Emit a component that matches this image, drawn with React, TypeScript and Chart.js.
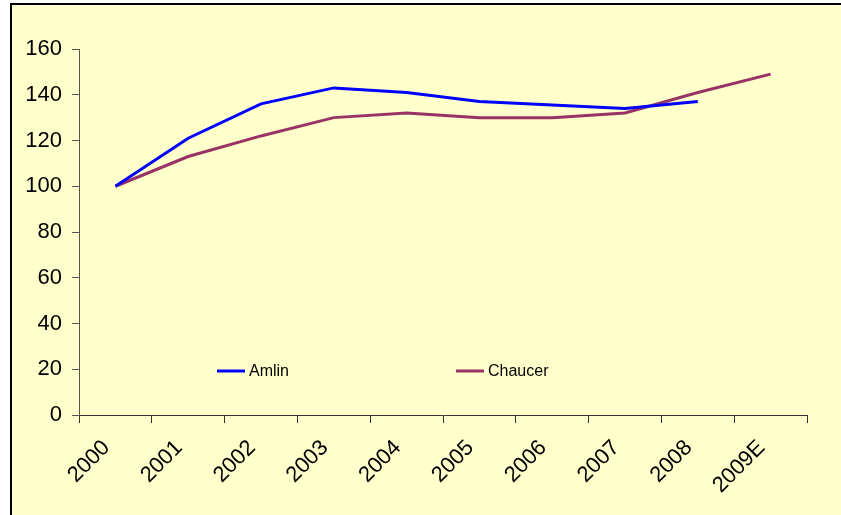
import React, { useEffect, useRef } from "react";
import { Chart, registerables } from "chart.js";

Chart.register(...registerables);

const categories = ["2000", "2001", "2002", "2003", "2004", "2005", "2006", "2007", "2008", "2009E"];
const amlinValues = [100, 121, 136, 143, 141, 137, 135.5, 134, 137, null];
const chaucerValues = [100, 113, 122, 130, 132, 130, 130, 132, 141, 149];
const seriesNames = ["Amlin", "Chaucer"];
const seriesColors = ["#0000FF", "#993366"];
const yMin = 0;
const yMax = 160;
const yStep = 20;

const FONT = "'Liberation Sans', Arial, sans-serif";

const framePlugin = {
  id: "frame",
  beforeDraw(chart: any) {
    const { ctx, width, height } = chart;
    ctx.save();
    ctx.fillStyle = "#ffffff";
    ctx.fillRect(0, 0, width, height);
    ctx.fillStyle = "#FFFFCC";
    ctx.fillRect(11, 4, width, height);
    ctx.strokeStyle = "#000000";
    ctx.lineWidth = 2;
    ctx.strokeRect(11, 4, width + 20, height + 20);
    ctx.restore();
  },
};

const legendPlugin = {
  id: "insideLegend",
  afterDraw(chart: any) {
    const { ctx } = chart;
    const startX = 217;
    const spacing = 239;
    const y = 371;
    ctx.save();
    ctx.font = `16px ${FONT}`;
    ctx.textBaseline = "middle";
    chart.data.datasets.forEach((ds: any, i: number) => {
      const x = startX + i * spacing;
      ctx.strokeStyle = ds.borderColor;
      ctx.lineWidth = 3;
      ctx.beginPath();
      ctx.moveTo(x, y);
      ctx.lineTo(x + 28, y);
      ctx.stroke();
      ctx.fillStyle = "#000000";
      ctx.fillText(ds.label, x + 32, y + 1);
    });
    ctx.restore();
  },
};

export default function App() {
  const ref = useRef<HTMLCanvasElement | null>(null);

  useEffect(() => {
    document.body.style.margin = "0";
    const canvas = ref.current;
    if (!canvas) return;
    const chart = new Chart(canvas, {
      type: "line",
      data: {
        labels: categories,
        datasets: [
          {
            label: seriesNames[0],
            data: amlinValues,
            borderColor: seriesColors[0],
            backgroundColor: seriesColors[0],
            borderWidth: 3,
            pointRadius: 0,
            tension: 0,
            spanGaps: false,
          },
          {
            label: seriesNames[1],
            data: chaucerValues,
            borderColor: seriesColors[1],
            backgroundColor: seriesColors[1],
            borderWidth: 3,
            pointRadius: 0,
            tension: 0,
          },
        ],
      },
      options: {
        responsive: false,
        animation: false,
        devicePixelRatio: 1,
        layout: { padding: { top: 49, right: 34, left: 0, bottom: 0 } },
        plugins: {
          legend: { display: false },
          tooltip: { enabled: false },
          title: { display: false },
        },
        scales: {
          x: {
            type: "category",
            offset: true,
            grid: {
              offset: true,
              drawOnChartArea: false,
              drawTicks: true,
              tickLength: 8,
              color: "#333333",
            },
            border: { display: true, color: "#333333", width: 1 },
            ticks: {
              minRotation: 45,
              maxRotation: 45,
              autoSkip: false,
              padding: 12,
              labelOffset: -9,
              color: "#000000",
              font: { family: FONT, size: 22 },
            },
            afterFit(scale: any) {
              scale.height = 100;
            },
          },
          y: {
            min: yMin,
            max: yMax,
            grid: {
              drawOnChartArea: false,
              drawTicks: true,
              tickLength: 7,
              color: "#555555",
            },
            border: { display: true, color: "#555555", width: 1 },
            ticks: {
              stepSize: yStep,
              padding: 10,
              color: "#000000",
              font: { family: FONT, size: 22 },
            },
            afterFit(scale: any) {
              scale.width = 79;
            },
          },
        },
      },
      plugins: [framePlugin, legendPlugin],
    });
    return () => chart.destroy();
  }, []);

  return (
    <div style={{ width: 841, height: 515, overflow: "hidden" }}>
      <canvas ref={ref} width={841} height={515} style={{ display: "block", width: 841, height: 515 }} />
    </div>
  );
}
